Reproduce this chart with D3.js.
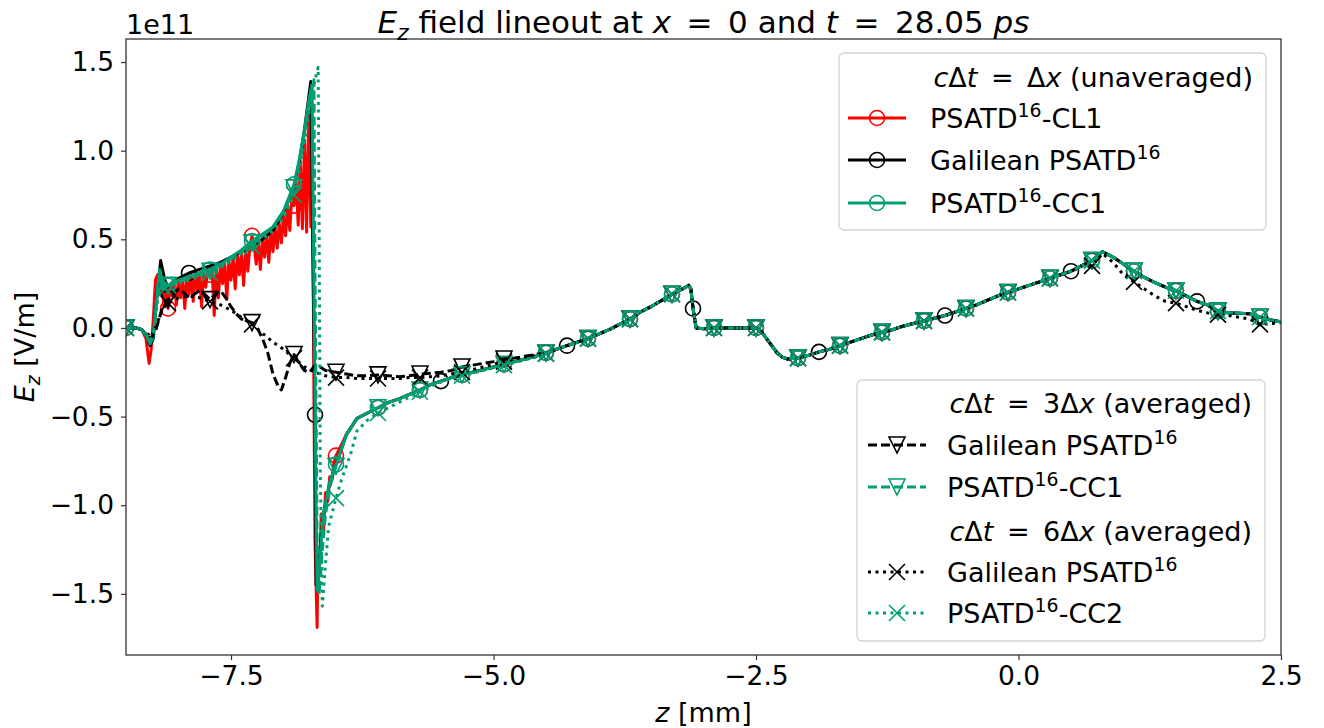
<!DOCTYPE html>
<html>
<head>
<meta charset="utf-8">
<script src="https://cdn.jsdelivr.net/npm/d3@7"></script>
<style>
  body { margin: 0; background: #fff; }
  svg { font-family: "DejaVu Sans", sans-serif; }
  text { white-space: pre; }
</style>
</head>
<body>
<svg id="chart" width="1324" height="728"></svg>
<script>
// ---- data (z in mm, Ez in units of 1e11 V/m) ----
// left part of each run, differs from run to run
const redHead = [[-8.5,0],[-8.4,0],[-8.35,-0.01],[-8.31,-0.06],[-8.28,-0.2],[-8.26,-0.12],[-8.24,0.05],
  [-8.22,0.27],[-8.2,0.3],[-8.18,0.2],[-8.16,0.28],[-8.14,0.12],[-8.12,0.25],[-8.1,0.11],[-8.08,0.24],
  [-8.06,0.18],[-8.04,0.26],[-8.02,0.13],[-8.0,0.27],[-7.98,0.17],[-7.96,0.28],[-7.94,0.11],[-7.92,0.29],
  [-7.9,0.19],[-7.88,0.3],[-7.86,0.15],[-7.84,0.31],[-7.82,0.21],[-7.8,0.31],[-7.78,0.12],[-7.76,0.32],
  [-7.74,0.23],[-7.72,0.33],[-7.7,0.3],[-7.68,0.33],[-7.66,0.07],[-7.64,0.35],[-7.62,0.17],[-7.6,0.36],
  [-7.58,0.25],[-7.56,0.37],[-7.54,0.16],[-7.52,0.38],[-7.5,0.27],[-7.48,0.4],[-7.46,0.22],[-7.44,0.41],
  [-7.42,0.3],[-7.4,0.43],[-7.38,0.24],[-7.36,0.44],[-7.34,0.32],[-7.32,0.46],[-7.3,0.52],[-7.28,0.47],
  [-7.26,0.36],[-7.24,0.49],[-7.22,0.33],[-7.2,0.51],[-7.18,0.4],[-7.16,0.53],[-7.14,0.37],[-7.12,0.55],
  [-7.1,0.43],[-7.08,0.57],[-7.06,0.45],[-7.04,0.59],[-7.02,0.48],[-7.0,0.63],[-6.98,0.52],[-6.96,0.69],
  [-6.94,0.55],[-6.92,0.75],[-6.9,0.69],[-6.88,0.83],[-6.86,0.58],[-6.84,0.94],[-6.82,0.56],[-6.8,1.06],
  [-6.78,0.54],[-6.76,1.22],[-6.74,0.57],[-6.73,1.32],[-6.72,0.55],[-6.71,-0.4],[-6.7,-1.2],[-6.68,-1.69],
  [-6.67,-1.25],[-6.66,-1.4],[-6.64,-1.05],[-6.62,-1.15],[-6.6,-0.93],[-6.58,-0.98],[-6.56,-0.84],
  [-6.54,-0.86],[-6.52,-0.76],[-6.5,-0.72]];

const galHead = [[-8.5,0],[-8.4,0],[-8.35,-0.01],[-8.3,-0.05],[-8.27,-0.1],[-8.24,-0.06],[-8.21,0.15],
  [-8.17,0.38],[-8.13,0.27],[-8.1,0.23],[-8.05,0.25],[-8.0,0.28],[-7.9,0.31],[-7.8,0.33],[-7.7,0.35],
  [-7.6,0.37],[-7.5,0.4],[-7.4,0.43],[-7.3,0.46],[-7.2,0.5],[-7.1,0.55],[-7.0,0.65],[-6.9,0.8],
  [-6.85,0.93],[-6.8,1.12],[-6.76,1.3],[-6.74,1.39],[-6.72,0.4],[-6.7,-0.49],[-6.69,-1.45],
  [-6.66,-1.3],[-6.62,-1.05],[-6.56,-0.88],[-6.5,-0.77]];

const cc1Head = [[-8.5,0],[-8.4,0],[-8.35,-0.01],[-8.3,-0.05],[-8.27,-0.09],[-8.24,-0.05],[-8.21,0.15],
  [-8.18,0.33],[-8.14,0.22],[-8.1,0.24],[-8.0,0.27],[-7.9,0.29],[-7.8,0.31],[-7.7,0.33],[-7.6,0.36],
  [-7.5,0.4],[-7.4,0.44],[-7.3,0.49],[-7.2,0.53],[-7.1,0.57],[-7.0,0.66],[-6.9,0.81],[-6.85,0.95],
  [-6.8,1.12],[-6.76,1.28],[-6.73,1.37],[-6.71,0.2],[-6.69,-1.0],[-6.68,-1.48],[-6.66,-1.35],
  [-6.62,-1.05],[-6.56,-0.87],[-6.5,-0.77]];

const gal3Head = [[-8.5,0],[-8.4,0],[-8.35,-0.01],[-8.3,-0.04],[-8.26,-0.06],[-8.22,-0.02],[-8.16,0.1],
  [-8.1,0.16],[-8.05,0.19],[-8.0,0.22],[-7.95,0.2],[-7.9,0.17],[-7.85,0.19],[-7.8,0.21],[-7.75,0.19],
  [-7.7,0.16],[-7.65,0.19],[-7.6,0.21],[-7.55,0.17],[-7.5,0.12],[-7.45,0.08],[-7.4,0.05],[-7.35,0.04],
  [-7.3,0.03],[-7.25,0.0],[-7.2,-0.06],[-7.15,-0.14],[-7.1,-0.26],[-7.05,-0.33],[-7.02,-0.35],
  [-6.98,-0.28],[-6.94,-0.2],[-6.9,-0.15],[-6.85,-0.2],[-6.8,-0.24],[-6.75,-0.25],[-6.7,-0.21],
  [-6.65,-0.22],[-6.6,-0.24],[-6.5,-0.25],[-6.4,-0.26],[-6.3,-0.27],[-6.2,-0.27],[-6.1,-0.265],
  [-6.0,-0.27],[-5.9,-0.275],[-5.8,-0.27],[-5.7,-0.26],[-5.6,-0.255],[-5.5,-0.25],[-5.4,-0.24],
  [-5.3,-0.22],[-5.2,-0.21],[-5.1,-0.2],[-5.0,-0.19],[-4.9,-0.175],[-4.8,-0.17],[-4.7,-0.16],
  [-4.6,-0.15],[-4.5,-0.14]];

const cc1AvgHead = [[-8.5,0],[-8.4,0],[-8.35,-0.01],[-8.3,-0.05],[-8.27,-0.08],[-8.24,-0.04],[-8.2,0.18],
  [-8.16,0.27],[-8.1,0.24],[-8.0,0.26],[-7.9,0.28],[-7.8,0.3],[-7.7,0.32],[-7.6,0.35],[-7.5,0.39],
  [-7.4,0.43],[-7.3,0.48],[-7.2,0.52],[-7.1,0.57],[-7.0,0.65],[-6.9,0.79],[-6.85,0.92],[-6.8,1.1],
  [-6.75,1.3],[-6.71,1.4],[-6.7,0.3],[-6.68,-1.2],[-6.66,-1.5],[-6.63,-1.25],[-6.6,-1.05],
  [-6.55,-0.88],[-6.5,-0.78]];

const gal6Head = [[-8.5,0],[-8.4,0],[-8.35,-0.01],[-8.3,-0.03],[-8.26,-0.05],[-8.22,0.0],[-8.15,0.11],
  [-8.1,0.14],[-8.0,0.17],[-7.9,0.18],[-7.8,0.17],[-7.7,0.15],[-7.6,0.13],[-7.5,0.1],[-7.4,0.06],
  [-7.3,0.02],[-7.2,-0.03],[-7.1,-0.08],[-7.0,-0.12],[-6.9,-0.17],[-6.8,-0.22],[-6.7,-0.25],
  [-6.6,-0.27],[-6.5,-0.28],[-6.4,-0.28],[-6.3,-0.285],[-6.2,-0.285],[-6.1,-0.285],[-6.0,-0.285],
  [-5.9,-0.285],[-5.8,-0.28],[-5.7,-0.28],[-5.6,-0.275],[-5.5,-0.27],[-5.4,-0.26],[-5.3,-0.25],
  [-5.2,-0.235],[-5.1,-0.22],[-5.0,-0.205],[-4.9,-0.19],[-4.8,-0.175],[-4.7,-0.165],[-4.6,-0.155],
  [-4.5,-0.145]];

const cc2Head = [[-8.5,0],[-8.4,0],[-8.35,-0.01],[-8.3,-0.04],[-8.27,-0.07],[-8.24,-0.03],[-8.2,0.15],
  [-8.15,0.25],[-8.1,0.24],[-8.0,0.25],[-7.9,0.27],[-7.8,0.29],[-7.7,0.31],[-7.6,0.34],[-7.5,0.38],
  [-7.4,0.42],[-7.3,0.46],[-7.2,0.5],[-7.1,0.55],[-7.0,0.62],[-6.9,0.75],[-6.85,0.88],[-6.8,1.05],
  [-6.75,1.25],[-6.7,1.4],[-6.67,1.47],[-6.66,0.5],[-6.65,-0.8],[-6.63,-1.57],[-6.6,-1.33],
  [-6.57,-1.12],[-6.5,-0.96],[-6.45,-0.86],[-6.36,-0.71],[-6.3,-0.58],[-6.2,-0.52],[-6.1,-0.48],
  [-6.0,-0.45],[-5.9,-0.42],[-5.8,-0.39],[-5.7,-0.36],[-5.6,-0.33],[-5.5,-0.305],[-5.4,-0.285],
  [-5.3,-0.27],[-5.2,-0.255],[-5.1,-0.24],[-5.0,-0.225],[-4.9,-0.21],[-4.8,-0.195],[-4.7,-0.18],
  [-4.6,-0.165],[-4.5,-0.145]];

// shared parts where the runs lie on top of each other
const recoverySeg = [[-6.4,-0.6],[-6.3,-0.51],[-6.2,-0.48],[-6.1,-0.45],[-6.0,-0.42],[-5.9,-0.4],
  [-5.8,-0.375],[-5.7,-0.35],[-5.6,-0.32],[-5.5,-0.3],[-5.4,-0.28],[-5.3,-0.265],[-5.2,-0.25],
  [-5.1,-0.235],[-5.0,-0.22],[-4.9,-0.205],[-4.8,-0.19],[-4.7,-0.175],[-4.6,-0.16],[-4.5,-0.14]];

const midSeg = [[-4.4,-0.12],[-4.3,-0.1],[-4.2,-0.08],[-4.1,-0.06],[-4.0,-0.035],[-3.9,-0.01],
  [-3.8,0.02],[-3.7,0.05],[-3.6,0.09],[-3.5,0.12],[-3.4,0.155],[-3.3,0.19],[-3.2,0.22],[-3.14,0.24],
  [-3.12,0.22],[-3.1,0.11],[-3.07,0.0],[-3.0,-0.005],[-2.9,0.0],[-2.8,0.0],[-2.7,0.0],[-2.6,0.0],
  [-2.5,0.0],[-2.45,-0.02],[-2.4,-0.06],[-2.35,-0.1],[-2.3,-0.14],[-2.25,-0.165],[-2.2,-0.175],
  [-2.1,-0.17],[-2.0,-0.155],[-1.9,-0.135],[-1.8,-0.12],[-1.7,-0.1],[-1.6,-0.08],[-1.5,-0.06],
  [-1.4,-0.04],[-1.3,-0.025],[-1.2,-0.01],[-1.1,0.01],[-1.0,0.025],[-0.9,0.04],[-0.8,0.055],
  [-0.7,0.07],[-0.6,0.09],[-0.5,0.11],[-0.4,0.13],[-0.3,0.155],[-0.2,0.18],[-0.1,0.2],[0.0,0.22],
  [0.1,0.24],[0.2,0.26],[0.3,0.28],[0.4,0.3],[0.5,0.32],[0.6,0.35]];

const endSeg = [[0.7,0.38],[0.8,0.43],[0.9,0.4],[1.0,0.36],[1.1,0.32],[1.2,0.285],[1.3,0.255],
  [1.4,0.23],[1.5,0.21],[1.6,0.18],[1.7,0.15],[1.8,0.13],[1.9,0.095],[2.0,0.085],[2.1,0.083],
  [2.2,0.08],[2.3,0.06],[2.4,0.045],[2.5,0.035]];

const gal6End = [[0.7,0.35],[0.8,0.42],[0.9,0.37],[1.0,0.3],[1.1,0.26],[1.2,0.22],[1.3,0.18],
  [1.4,0.15],[1.5,0.14],[1.6,0.12],[1.7,0.1],[1.8,0.085],[1.9,0.075],[2.0,0.07],[2.1,0.06],
  [2.2,0.05],[2.3,0.02],[2.4,0.025],[2.5,0.03]];

// where markers sit
const markGrid = [-8.5,-8.1,-7.7,-7.3,-6.9,-6.5,-6.1,-5.7,-5.3,-4.9,-4.5,-4.1,-3.7,-3.3,-2.9,-2.5,
  -2.1,-1.7,-1.3,-0.9,-0.5,-0.1,0.3,0.7,1.1,1.5,1.9,2.3];
const galMarkGrid = [-7.9,-6.7,-5.5,-4.3,-3.1,-1.9,-0.7,0.5,1.7];

const xTicks = [-7.5, -5.0, -2.5, 0.0, 2.5];
const yTicks = [-1.5, -1.0, -0.5, 0.0, 0.5, 1.0, 1.5];

const RED = "#ff0000", BLACK = "#000000", GREEN = "#009e73";

const series = [
  { key: "cl1",  data: [...redHead, ...recoverySeg, ...midSeg, ...endSeg], color: RED,   dash: null,  marker: "o", marks: markGrid },
  { key: "gal",  data: [...galHead, ...recoverySeg, ...midSeg, ...endSeg], color: BLACK, dash: null,  marker: "o", marks: galMarkGrid },
  { key: "cc1",  data: [...cc1Head, ...recoverySeg, ...midSeg, ...endSeg], color: GREEN, dash: null,  marker: "o", marks: markGrid },
  { key: "gal3", data: [...gal3Head, ...midSeg, ...endSeg],                color: BLACK, dash: "9,4", marker: "v", marks: markGrid },
  { key: "cc13", data: [...cc1AvgHead, ...recoverySeg, ...midSeg, ...endSeg], color: GREEN, dash: "9,4", marker: "v", marks: markGrid },
  { key: "gal6", data: [...gal6Head, ...midSeg, ...gal6End],               color: BLACK, dash: "3,4.5", marker: "x", marks: markGrid },
  { key: "cc2",  data: [...cc2Head, ...midSeg, ...endSeg],                 color: GREEN, dash: "3,4.5", marker: "x", marks: markGrid },
];
const byKey = Object.fromEntries(series.map(s => [s.key, s]));

// ---- layout ----
const X0 = 126, X1 = 1281, Y0 = 39, Y1 = 655;
const FS = 27;
const EQ = "\u2002=\u2002"; // mathtext puts wider gaps round "="
const svg = d3.select("#chart");

const x = d3.scaleLinear().domain([-8.5, 2.5]).range([X0, X1]);
const y = d3.scaleLinear().domain([-1.845, 1.63]).range([Y1, Y0]);

svg.append("defs").append("clipPath").attr("id", "clip")
  .append("rect").attr("x", X0).attr("y", Y0).attr("width", X1 - X0).attr("height", Y1 - Y0);

const plot = svg.append("g").attr("clip-path", "url(#clip)");

const line = d3.line().x(d => x(d[0])).y(d => y(d[1]));

function drawMarker(g, type, color, cx, cy) {
  if (type === "o") {
    g.append("circle").attr("cx", cx).attr("cy", cy).attr("r", 7.5)
      .attr("fill", "none").attr("stroke", color).attr("stroke-width", 1.6);
  } else if (type === "v") {
    g.append("path").attr("transform", `translate(${cx},${cy})`)
      .attr("d", "M-8,-8L8,-8L0,8Z")
      .attr("fill", "none").attr("stroke", color).attr("stroke-width", 1.6).attr("stroke-linejoin", "miter");
  } else {
    g.append("path").attr("transform", `translate(${cx},${cy})`)
      .attr("d", "M-8,-8L8,8M-8,8L8,-8")
      .attr("fill", "none").attr("stroke", color).attr("stroke-width", 1.6);
  }
}

series.forEach(s => {
  const g = plot.append("g").attr("class", "series-" + s.key);
  g.append("path")
    .attr("d", line(s.data))
    .attr("fill", "none")
    .attr("stroke", s.color)
    .attr("stroke-width", 3)
    .attr("stroke-linejoin", "round")
    .attr("stroke-dasharray", s.dash);
  const pts = s.data.filter(d => s.marks.some(m => Math.abs(m - d[0]) < 1e-6));
  pts.forEach(d => drawMarker(g, s.marker, s.color, x(d[0]), y(d[1])));
});

// ---- axes ----
const xAxis = svg.append("g").attr("transform", `translate(0,${Y1})`)
  .call(d3.axisBottom(x).tickValues(xTicks).tickFormat(d3.format(".1f")).tickSize(5).tickPadding(6));
const yAxis = svg.append("g").attr("transform", `translate(${X0},0)`)
  .call(d3.axisLeft(y).tickValues(yTicks).tickFormat(d3.format(".1f")).tickSize(5).tickPadding(7));
[xAxis, yAxis].forEach(a => {
  a.select(".domain").remove();
  a.selectAll("line").attr("stroke", "#333").attr("stroke-width", 1.2);
  a.selectAll("text").attr("font-size", 26.5).attr("fill", "#000")
    .attr("font-family", "DejaVu Sans, sans-serif");
});

svg.append("rect").attr("x", X0).attr("y", Y0).attr("width", X1 - X0).attr("height", Y1 - Y0)
  .attr("fill", "none").attr("stroke", "#333").attr("stroke-width", 1.3);

// rich text helper: parts = [{t, i, sup, sub}]
function richText(g, parts, tx, ty, size, anchor) {
  const t = g.append("text").attr("x", tx).attr("y", ty).attr("font-size", size)
    .attr("text-anchor", anchor || "start").attr("fill", "#000");
  let shift = 0;
  parts.forEach(p => {
    const target = p.sup ? -0.42 * size : p.sub ? 0.22 * size : 0;
    const sp = t.append("tspan").text(p.t);
    if (target !== shift) sp.attr("dy", target - shift);
    shift = target;
    if (p.i) sp.attr("font-style", "italic");
    if (p.sup || p.sub) sp.attr("font-size", size * 0.7);
  });
  return t;
}

svg.append("text").attr("x", X0).attr("y", 34).attr("font-size", FS).text("1e11");

richText(svg, [{t: "E", i: true}, {t: "z", i: true, sub: true}, {t: " field lineout at "}, {t: "x", i: true},
  {t: EQ + "0 and "}, {t: "t", i: true}, {t: EQ + "28.05 "}, {t: "ps", i: true}], (X0 + X1) / 2, 33, 31, "middle");

richText(svg, [{t: "z", i: true}, {t: " [mm]"}], (X0 + X1) / 2, 722, FS, "middle");

const yl = svg.append("g").attr("transform", `translate(34,${(Y0 + Y1) / 2}) rotate(-90)`);
richText(yl, [{t: "E", i: true}, {t: "z", i: true, sub: true}, {t: " [V/m]"}], 0, 0, FS, "middle");

// ---- legends ----
function psatd(tail) {
  return [{t: "PSATD"}, {t: "16", sup: true}, {t: tail}];
}
const galLabel = [{t: "Galilean PSATD"}, {t: "16", sup: true}];
function dtTitle(mult, word) {
  return [{t: "c", i: true}, {t: "Δ"}, {t: "t", i: true}, {t: EQ + mult + "Δ"}, {t: "x", i: true}, {t: " (" + word + ")"}];
}

function drawLegend(box, hx, tx, rows) {
  const g = svg.append("g");
  g.append("rect").attr("x", box[0]).attr("y", box[1]).attr("width", box[2] - box[0]).attr("height", box[3] - box[1])
    .attr("rx", 5).attr("fill", "#fff").attr("fill-opacity", 0.8).attr("stroke", "#d3d3d3").attr("stroke-width", 1.3);
  rows.forEach(r => {
    if (r.title) {
      richText(g, r.title, box[2] - 13, r.y + 10, FS, "end");
      return;
    }
    const s = byKey[r.key];
    g.append("line").attr("x1", hx).attr("x2", hx + 58).attr("y1", r.y).attr("y2", r.y)
      .attr("stroke", s.color).attr("stroke-width", 3).attr("stroke-dasharray", s.dash);
    drawMarker(g, s.marker, s.color, hx + 29, r.y);
    richText(g, r.label, tx, r.y + 10, FS, "start");
  });
}

drawLegend([839, 53, 1266, 230], 848, 930, [
  {title: dtTitle("", "unaveraged"), y: 77},
  {key: "cl1", label: psatd("-CL1"), y: 118},
  {key: "gal", label: galLabel, y: 160},
  {key: "cc1", label: psatd("-CC1"), y: 203},
]);

drawLegend([857, 380, 1265, 641], 868, 947, [
  {title: dtTitle("3", "averaged"), y: 403},
  {key: "gal3", label: galLabel, y: 445},
  {key: "cc13", label: psatd("-CC1"), y: 487},
  {title: dtTitle("6", "averaged"), y: 531},
  {key: "gal6", label: galLabel, y: 572},
  {key: "cc2", label: psatd("-CC2"), y: 613},
]);
</script>
</body>
</html>
